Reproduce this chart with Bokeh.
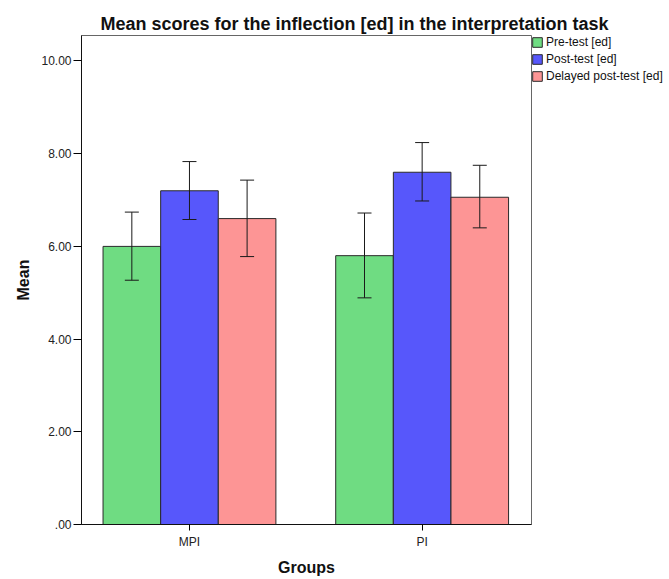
from bokeh.plotting import figure
from bokeh.models import (ColumnDataSource, Range1d, FixedTicker, Legend, LegendItem,
                          Whisker, TeeHead)
from bokeh.transform import dodge
from bokeh.embed import file_html
from bokeh.resources import INLINE

# ---- data ----
groups = ["MPI", "PI"]
series = ["Pre-test [ed]", "Post-test [ed]", "Delayed post-test [ed]"]
pre_mean = [6.00, 5.80]
pre_lower = [5.27, 4.89]
pre_upper = [6.74, 6.72]
post_mean = [7.20, 7.60]
post_lower = [6.58, 6.98]
post_upper = [7.83, 8.24]
delayed_mean = [6.60, 7.06]
delayed_lower = [5.78, 6.40]
delayed_upper = [7.43, 7.75]
y_ticks = [0, 2, 4, 6, 8, 10]
y_tick_labels = [".00", "2.00", "4.00", "6.00", "8.00", "10.00"]

colors = ["#6FDC82", "#5757FB", "#FD9595"]
FONT = "Liberation Sans"

gx = list(range(len(groups)))
src = ColumnDataSource(dict(
    gx=gx,
    pre=pre_mean, pre_lo=pre_lower, pre_hi=pre_upper,
    post=post_mean, post_lo=post_lower, post_hi=post_upper,
    dly=delayed_mean, dly_lo=delayed_lower, dly_hi=delayed_upper,
))

p = figure(frame_width=450, frame_height=489, output_backend="svg", toolbar_location=None,
           x_range=Range1d(-0.464, 1.470), y_range=Range1d(0, 10.55),
           min_border_left=81, min_border_right=136, min_border_top=35, min_border_bottom=55)

p.title.text = "Mean scores for the inflection [ed] in the interpretation task"
p.title.text_font = FONT
p.title.text_font_size = "18px"
p.title.text_font_style = "bold"
p.title.text_color = "#111111"
p.title.align = "left"
p.title.offset = 19
p.title.vertical_align = "top"
p.title.standoff = 0

bw = 0.2475
off = 0.2477
items = []
for i, (key, c) in enumerate(zip(["pre", "post", "dly"], colors)):
    o = (i - 1) * off
    r = p.vbar(x=dodge("gx", o, range=p.x_range), top=key, width=bw, bottom=0, source=src,
               fill_color=c, line_color="#2a2a2a", line_width=1)
    items.append(LegendItem(label=series[i], renderers=[r]))
    w = Whisker(base=dodge("gx", o, range=p.x_range), lower=key + "_lo", upper=key + "_hi",
                source=src, line_color="#1a1a1a", line_width=1, level="overlay",
                upper_head=TeeHead(size=14, line_color="#1a1a1a", line_width=1),
                lower_head=TeeHead(size=14, line_color="#1a1a1a", line_width=1))
    p.add_layout(w)

legend = Legend(items=items, location="top_left", margin=0, padding=3, spacing=3,
                glyph_width=12, glyph_height=12, label_height=12, label_standoff=3,
                label_text_font=FONT, label_text_font_size="12px", label_text_color="#111111",
                border_line_color=None, background_fill_alpha=0)
p.add_layout(legend, "right")

p.xgrid.visible = False
p.ygrid.visible = False
p.outline_line_color = "#666666"
p.outline_line_width = 1

xa = p.xaxis[0]
xa.ticker = FixedTicker(ticks=gx)
xa.major_label_overrides = {i: g for i, g in enumerate(groups)}
xa.minor_tick_line_color = None
xa.major_tick_out = 6
xa.major_tick_in = 0
xa.major_label_standoff = 4
xa.major_label_text_font = FONT
xa.major_label_text_font_size = "12px"
xa.major_label_text_color = "#222222"
xa.axis_label = "Groups"
xa.axis_label_text_font = FONT
xa.axis_label_text_font_size = "16px"
xa.axis_label_text_font_style = "bold"
xa.axis_label_text_color = "#111111"
xa.axis_label_standoff = 7
xa.axis_line_color = "#111111"

ya = p.yaxis[0]
ya.ticker = FixedTicker(ticks=y_ticks)
ya.major_label_overrides = {t: l for t, l in zip(y_ticks, y_tick_labels)}
ya.minor_tick_line_color = None
ya.major_tick_out = 8
ya.major_tick_in = 0
ya.major_label_standoff = 2
ya.major_label_text_font = FONT
ya.major_label_text_font_size = "12px"
ya.major_label_text_color = "#222222"
ya.axis_label = "Mean"
ya.axis_label_text_font = FONT
ya.axis_label_text_font_size = "16px"
ya.axis_label_text_font_style = "bold"
ya.axis_label_text_color = "#111111"
ya.axis_label_standoff = 6
ya.axis_line_color = "#111111"

open("out.html", "w").write(file_html(p, INLINE))
